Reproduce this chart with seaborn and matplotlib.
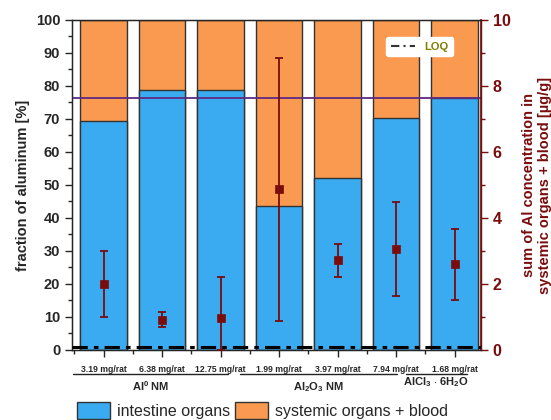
import numpy as np
import pandas as pd
import seaborn as sns
import matplotlib.pyplot as plt
from matplotlib.lines import Line2D
from matplotlib.patches import Patch
import matplotlib.transforms as mtransforms
from matplotlib.ticker import MultipleLocator

sns.set_style("ticks")
plt.rcParams['font.family'] = ['Liberation Sans', 'DejaVu Sans']
plt.rcParams['mathtext.fontset'] = 'custom'
plt.rcParams['mathtext.rm'] = 'Liberation Sans'
plt.rcParams['mathtext.bf'] = 'Liberation Sans:bold'

# ---- data ----
doses = ["3.19 mg/rat", "6.38 mg/rat", "12.75 mg/rat", "1.99 mg/rat",
         "3.97 mg/rat", "7.94 mg/rat", "1.68 mg/rat"]
intestine = [69.3, 78.8, 78.9, 43.5, 52.1, 70.3, 76.4]
total = [100, 100, 100, 100, 100, 100, 100]
sum_conc = [2.0, 0.92, 0.97, 4.87, 2.72, 3.06, 2.62]
err_low = [1.0, 0.7, 0.0, 0.88, 2.2, 1.65, 1.5]
err_high = [3.0, 1.15, 2.22, 8.85, 3.22, 4.47, 3.67]
loq = 0.1
ref_line = 76.4
groups = [r"Al$^{\mathbf{0}}$ NM", r"Al$_{\mathbf{2}}$O$_{\mathbf{3}}$ NM",
          r"AlCl$_{\mathbf{3}}$ $\cdot$ 6H$_{\mathbf{2}}$O"]

df = pd.DataFrame({"dose": doses, "intestine": intestine, "total": total})

blue = "#3AABF0"
orange = "#F99A50"
dred = "#7A0C0C"

fig = plt.figure(figsize=(5.51, 4.2), dpi=100)
ax = fig.add_axes([0.1307, 0.1667, 0.742, 0.7857])

x = np.arange(len(doses))
sns.barplot(data=df, x=x, y="total", color=orange, width=0.8, ax=ax,
            edgecolor="#333333", linewidth=1, saturation=1)
sns.barplot(data=df, x=x, y="intestine", color=blue, width=0.8, ax=ax,
            edgecolor="#333333", linewidth=1, saturation=1)
ax.axhline(ref_line, color="#5E2A84", lw=1.3, zorder=5)

XL = (-0.54, 6.45)
ax.set_xlim(*XL)
ax.set_ylim(0, 100)
ax.set_yticks(np.arange(0, 101, 10))
ax.yaxis.set_minor_locator(MultipleLocator(5))
ax.set_xticks(x)
ax.set_xticklabels(doses, fontsize=6.2, fontweight='bold')
ax.set_xticks(np.arange(-0.5, 6.6, 1), minor=True)
ax.tick_params(axis='x', which='major', length=5, width=1, pad=6)
ax.tick_params(axis='x', which='minor', length=3, width=1)
ax.tick_params(axis='y', which='major', length=5, width=1, labelsize=10.5)
ax.tick_params(axis='y', which='minor', length=3, width=1)
for t in ax.get_yticklabels():
    t.set_fontweight('bold')
ax.set_xlabel("")
ax.set_ylabel("fraction of aluminum [%]", fontsize=10.5, fontweight='bold', labelpad=4)
for s in ax.spines.values():
    s.set_linewidth(1)
    s.set_color("#222222")

ax2 = ax.twinx()
ax2.set_ylim(0, 10)
ax2.axhline(loq, color="black", lw=2.2, ls=(0, (5, 2, 1.5, 2)), zorder=6)
yerr = np.array([np.array(sum_conc) - np.array(err_low),
                 np.array(err_high) - np.array(sum_conc)])
ax2.errorbar(x, sum_conc, yerr=yerr, fmt='none', ecolor=dred, elinewidth=1.3,
             capsize=3, capthick=1.3, zorder=7)
sns.scatterplot(x=x, y=sum_conc, marker='s', s=38, color=dred, edgecolor=dred,
                ax=ax2, zorder=8, legend=False)
ax2.set_yticks(np.arange(0, 11, 2))
ax2.yaxis.set_minor_locator(MultipleLocator(1))
ax2.tick_params(axis='y', which='major', length=5, width=1, labelsize=11.5,
                colors=dred)
ax2.tick_params(axis='y', which='minor', length=3, width=1, colors=dred)
for t in ax2.get_yticklabels():
    t.set_fontweight('bold')
ax2.spines['right'].set_color(dred)
ax2.spines['right'].set_linewidth(1.2)
ax2.set_ylabel("sum of Al concentration in\nsystemic organs + blood [µg/g]",
               fontsize=10.5, fontweight='bold', color=dred, labelpad=8)
ax2.set_xlim(*XL)

loq_handle = Line2D([0], [0], color="#333333", lw=1.5, ls=(0, (4, 2, 1, 2)))
leg = ax2.legend([loq_handle], ["LOQ"], loc='upper right',
                 bbox_to_anchor=(0.945, 0.965), fontsize=8, frameon=True,
                 handlelength=2.2, borderpad=0.4)
leg.get_frame().set_edgecolor('white')
leg.get_frame().set_alpha(1)
for t in leg.get_texts():
    t.set_color("#7F7F00")
    t.set_fontweight('bold')

# group lines and labels
trans = mtransforms.blended_transform_factory(ax.transData, ax.transAxes)
spans = [(-0.52, 2.13), (2.34, 5.01), (5.17, 6.21)]
label_y = [-0.108, -0.112, -0.097]
label_x = [0.8, 3.67, 5.68]
for (a, b), g, ly, lx in zip(spans, groups, label_y, label_x):
    ax.plot([a, b], [-0.073, -0.073], color="#222222", lw=1, transform=trans,
            clip_on=False)
    ax.text(lx, ly, g, transform=trans, ha='center', va='center',
            fontsize=8, fontweight='bold')

handles = [Patch(facecolor=blue, edgecolor="#333333"),
           Patch(facecolor=orange, edgecolor="#333333")]
fig.legend(handles, ["intestine organs", "systemic organs + blood"],
           loc='center', bbox_to_anchor=(0.476, 0.022), ncol=2, frameon=False,
           fontsize=11.5, handlelength=2.1, handleheight=1.2, handletextpad=0.4,
           columnspacing=0.3)

fig.savefig("out.png", dpi=100)
